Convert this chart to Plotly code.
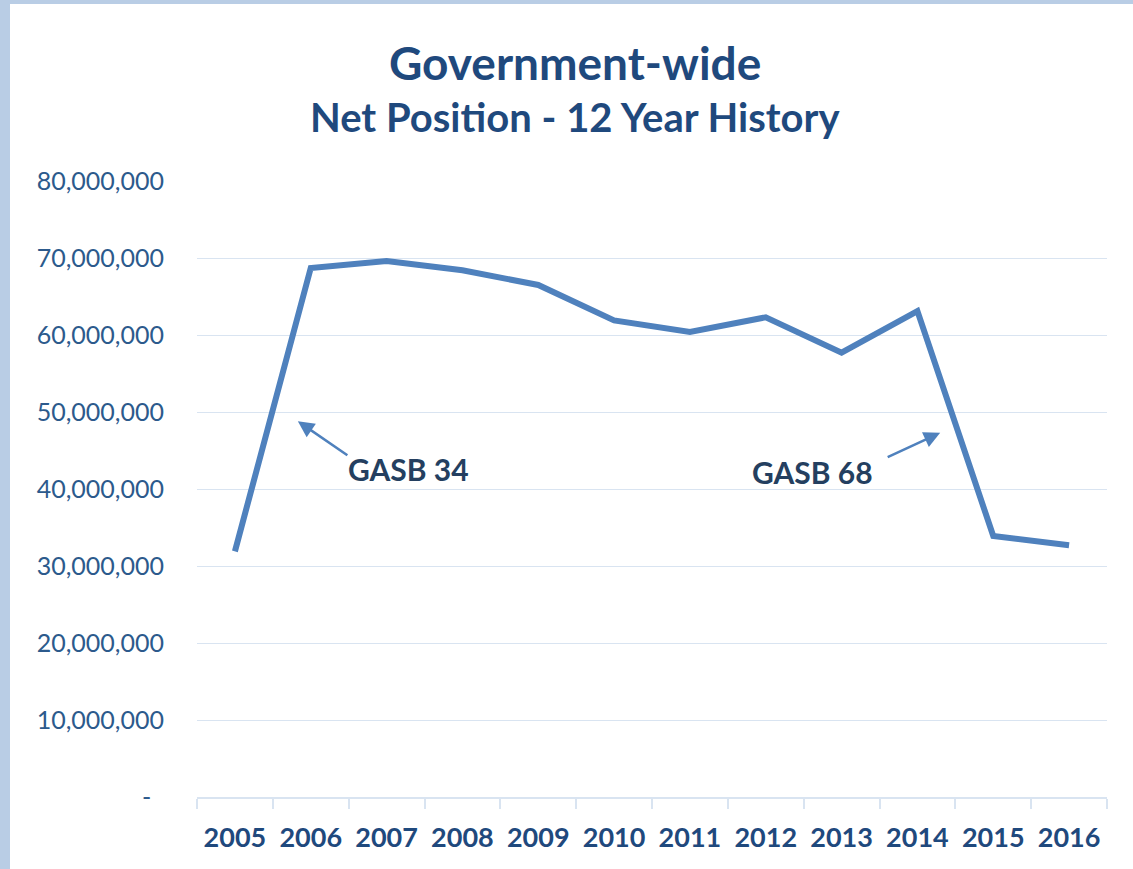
import plotly.graph_objects as go

years = ["2005", "2006", "2007", "2008", "2009", "2010", "2011", "2012", "2013", "2014", "2015", "2016"]
net_position = [31900000, 68700000, 69600000, 68400000, 66500000, 61900000, 60400000,
                62300000, 57700000, 63100000, 33900000, 32700000]
y_tickvals = [0, 10000000, 20000000, 30000000, 40000000, 50000000, 60000000, 70000000, 80000000]
y_ticktext = ["-\u00a0\u00a0", "10,000,000", "20,000,000", "30,000,000", "40,000,000",
              "50,000,000", "60,000,000", "70,000,000", "80,000,000"]

FONT = "Lato"
NAVY = "#1f497d"
LINE = "#4f81bd"
GRID = "#d9e4f1"

fig = go.Figure()
fig.add_trace(go.Scatter(x=years, y=net_position, mode="lines",
                         line=dict(color=LINE, width=6), hoverinfo="x+y"))

W, H = 1133, 869
ml, mr, mt, mb = 197, 26, 181, 72
pw, ph = W - ml - mr, H - mt - mb

def px_x(p):
    return (p - ml) / pw

def px_y(p):
    return (H - mb - p) / ph

shapes = [
    dict(type="rect", xref="paper", yref="paper", x0=px_x(0), x1=px_x(10), y0=px_y(H), y1=px_y(0),
         fillcolor="#b9cde5", line=dict(width=0), layer="below"),
    dict(type="rect", xref="paper", yref="paper", x0=px_x(0), x1=px_x(W), y0=px_y(4), y1=px_y(0),
         fillcolor="#b9cde5", line=dict(width=0), layer="below"),
]

annotations = [
    dict(text="<b>Government-wide</b>", xref="paper", yref="paper", x=px_x(575), y=px_y(62),
         showarrow=False, font=dict(family=FONT, size=46, color=NAVY), xanchor="center", yanchor="middle"),
    dict(text="<b>Net Position - 12 Year History</b>", xref="paper", yref="paper", x=px_x(575), y=px_y(117),
         showarrow=False, font=dict(family=FONT, size=40, color=NAVY), xanchor="center", yanchor="middle"),
    dict(text="<b>GASB 34</b>", x=2.29, y=42600000, xref="x", yref="y", showarrow=False,
         font=dict(family=FONT, size=30, color="#243f60"), xanchor="center", yanchor="middle"),
    dict(text="<b>GASB 68</b>", x=7.61, y=42200000, xref="x", yref="y", showarrow=False,
         font=dict(family=FONT, size=30, color="#243f60"), xanchor="center", yanchor="middle"),
    dict(text="", x=0.83, y=48800000, xref="x", yref="y", showarrow=True, ax=51, ay=35,
         axref="pixel", ayref="pixel", arrowhead=2, arrowsize=1.3, arrowwidth=2.5, arrowcolor=LINE, standoff=0),
    dict(text="", x=9.30, y=47300000, xref="x", yref="y", showarrow=True, ax=-54, ay=25,
         axref="pixel", ayref="pixel", arrowhead=2, arrowsize=1.3, arrowwidth=2.5, arrowcolor=LINE, standoff=0),
]

fig.update_layout(
    width=W, height=H,
    margin=dict(l=ml, r=mr, t=mt, b=mb, pad=0),
    paper_bgcolor="white", plot_bgcolor="rgba(0,0,0,0)",
    showlegend=False,
    shapes=shapes, annotations=annotations,
    xaxis=dict(type="category", range=[-0.5, 11.5], tickson="boundaries", ticks="outside",
               ticklen=10, tickcolor=GRID, tickwidth=2, showline=True, linecolor=GRID, linewidth=2,
               showgrid=False, zeroline=False,
               tickfont=dict(family=FONT, size=27, color=NAVY, weight="bold"), ticklabelstandoff=16),
    yaxis=dict(range=[0, 80000000], tickvals=y_tickvals, ticktext=y_ticktext, showgrid=True,
               gridcolor=GRID, gridwidth=1, zeroline=False, showline=False, ticks="",
               tickfont=dict(family=FONT, size=25, color="#2c5a8c"), ticklabelstandoff=32),
)

fig.write_html("out.html")
